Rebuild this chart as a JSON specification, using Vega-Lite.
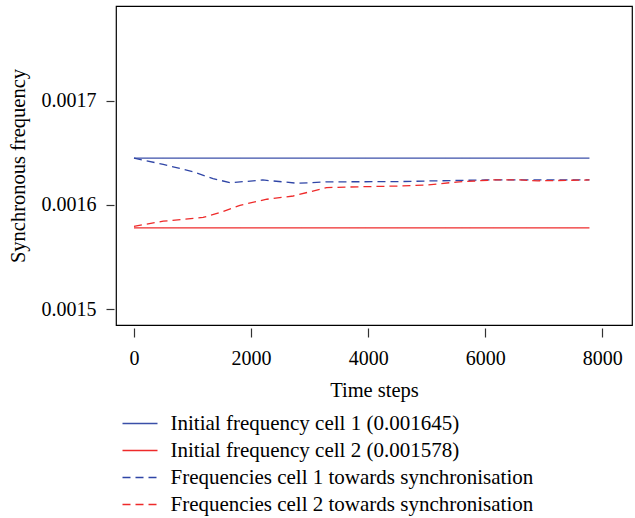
{
  "$schema": "https://vega.github.io/schema/vega-lite/v6.json",
  "autosize": {"type": "none"},
  "padding": {"left": 116, "top": 6, "right": 3, "bottom": 193},
  "width": 516,
  "height": 319,
  "background": "white",
  "config": {
    "view": {"stroke": "black", "strokeWidth": 1.2},
    "font": "Liberation Serif",
    "axis": {"grid": false, "domain": false, "tickColor": "#333", "tickWidth": 1.2, "labelFont": "Liberation Serif", "titleFont": "Liberation Serif", "labelFontSize": 20, "titleFontSize": 20.5, "labelColor": "black", "titleColor": "black", "titleFontWeight": "normal"}
  },
  "data": {
    "values": [
      {"series": "Initial frequency cell 1 (0.001645)", "t": 0, "f": 0.001645},
      {"series": "Initial frequency cell 1 (0.001645)", "t": 7780, "f": 0.001645},
      {"series": "Initial frequency cell 2 (0.001578)", "t": 0, "f": 0.001578},
      {"series": "Initial frequency cell 2 (0.001578)", "t": 7780, "f": 0.001578},
      {"series": "Frequencies cell 1 towards synchronisation", "t": 0, "f": 0.001645},
      {"series": "Frequencies cell 1 towards synchronisation", "t": 500, "f": 0.001639},
      {"series": "Frequencies cell 1 towards synchronisation", "t": 1000, "f": 0.001632},
      {"series": "Frequencies cell 1 towards synchronisation", "t": 1350, "f": 0.0016253},
      {"series": "Frequencies cell 1 towards synchronisation", "t": 1650, "f": 0.0016213},
      {"series": "Frequencies cell 1 towards synchronisation", "t": 2200, "f": 0.001624},
      {"series": "Frequencies cell 1 towards synchronisation", "t": 2800, "f": 0.0016208},
      {"series": "Frequencies cell 1 towards synchronisation", "t": 3300, "f": 0.0016222},
      {"series": "Frequencies cell 1 towards synchronisation", "t": 4500, "f": 0.0016224},
      {"series": "Frequencies cell 1 towards synchronisation", "t": 5000, "f": 0.001623},
      {"series": "Frequencies cell 1 towards synchronisation", "t": 5500, "f": 0.0016235},
      {"series": "Frequencies cell 1 towards synchronisation", "t": 6000, "f": 0.001624},
      {"series": "Frequencies cell 1 towards synchronisation", "t": 7780, "f": 0.001624},
      {"series": "Frequencies cell 2 towards synchronisation", "t": 0, "f": 0.0015795},
      {"series": "Frequencies cell 2 towards synchronisation", "t": 500, "f": 0.0015844},
      {"series": "Frequencies cell 2 towards synchronisation", "t": 1180, "f": 0.001588},
      {"series": "Frequencies cell 2 towards synchronisation", "t": 1470, "f": 0.0015927},
      {"series": "Frequencies cell 2 towards synchronisation", "t": 1810, "f": 0.0015997},
      {"series": "Frequencies cell 2 towards synchronisation", "t": 2270, "f": 0.0016055},
      {"series": "Frequencies cell 2 towards synchronisation", "t": 2720, "f": 0.0016086},
      {"series": "Frequencies cell 2 towards synchronisation", "t": 3290, "f": 0.0016167},
      {"series": "Frequencies cell 2 towards synchronisation", "t": 3970, "f": 0.0016176},
      {"series": "Frequencies cell 2 towards synchronisation", "t": 4540, "f": 0.0016182},
      {"series": "Frequencies cell 2 towards synchronisation", "t": 5000, "f": 0.0016192},
      {"series": "Frequencies cell 2 towards synchronisation", "t": 5510, "f": 0.001622},
      {"series": "Frequencies cell 2 towards synchronisation", "t": 6130, "f": 0.001624},
      {"series": "Frequencies cell 2 towards synchronisation", "t": 6600, "f": 0.001624},
      {"series": "Frequencies cell 2 towards synchronisation", "t": 6900, "f": 0.0016232},
      {"series": "Frequencies cell 2 towards synchronisation", "t": 7780, "f": 0.001624}
    ]
  },
  "mark": {"type": "line", "strokeWidth": 1.3, "clip": true},
  "encoding": {
    "x": {
      "field": "t", "type": "quantitative",
      "scale": {"domain": [-307, 8507], "nice": false, "zero": false},
      "axis": {"title": "Time steps", "values": [0, 2000, 4000, 6000, 8000], "format": "d", "offset": 3, "tickSize": 9, "labelPadding": 11, "titlePadding": 12}
    },
    "y": {
      "field": "f", "type": "quantitative",
      "scale": {"domain": [0.0014847, 0.0017911], "nice": false, "zero": false},
      "axis": {"title": "Synchronous frequency", "values": [0.0015, 0.0016, 0.0017], "format": ".4f", "offset": 2, "tickSize": 8, "labelPadding": 10, "titlePadding": 13}
    },
    "color": {
      "field": "series", "type": "nominal",
      "scale": {
        "domain": ["Initial frequency cell 1 (0.001645)", "Initial frequency cell 2 (0.001578)", "Frequencies cell 1 towards synchronisation", "Frequencies cell 2 towards synchronisation"],
        "range": ["#3a4fa8", "#ee2a2a", "#2f45a6", "#ee2a2a"]
      },
      "legend": {
        "title": null, "orient": "none", "legendX": 13.5, "legendY": 407, "direction": "vertical",
        "symbolType": "M-2,0L2,0", "symbolSize": 306.25, "symbolStrokeWidth": 1.3,
        "labelFont": "Liberation Serif", "labelFontSize": 21, "labelColor": "black",
        "labelOffset": 20, "rowPadding": 5, "labelLimit": 600
      }
    },
    "strokeDash": {
      "field": "series", "type": "nominal",
      "scale": {
        "domain": ["Initial frequency cell 1 (0.001645)", "Initial frequency cell 2 (0.001578)", "Frequencies cell 1 towards synchronisation", "Frequencies cell 2 towards synchronisation"],
        "range": [[1, 0], [1, 0], [8, 5], [8, 5]]
      },
      "legend": {
        "title": null, "orient": "none", "legendX": 13.5, "legendY": 407, "direction": "vertical",
        "symbolType": "M-2,0L2,0", "symbolSize": 306.25, "symbolStrokeWidth": 1.3,
        "labelFont": "Liberation Serif", "labelFontSize": 21, "labelColor": "black",
        "labelOffset": 20, "rowPadding": 5, "labelLimit": 600
      }
    }
  }
}
